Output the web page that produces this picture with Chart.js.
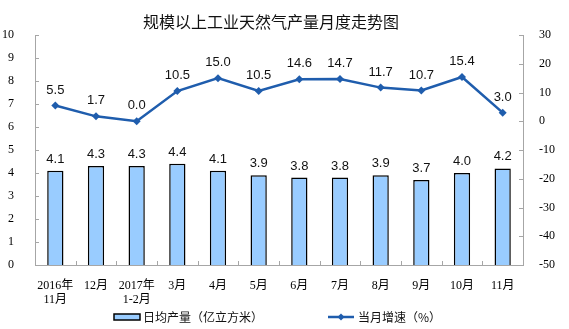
<!DOCTYPE html>
<html><head><meta charset="utf-8">
<script src="https://cdn.jsdelivr.net/npm/chart.js@4/dist/chart.umd.min.js"></script>
<style>
html,body{margin:0;padding:0;background:#fff;}
#wrap{position:relative;width:569px;height:329px;overflow:hidden;}
#title{position:absolute;left:143px;top:11px;font:16px "Noto Sans CJK SC",sans-serif;color:#111;white-space:nowrap;line-height:20px;}
canvas{position:absolute;left:0;top:0;}
</style></head>
<body><div id="wrap"><canvas id="c" width="569" height="329"></canvas><div id="title">规模以上工业天然气产量月度走势图</div></div>
<script>
const categories = [["2016年","11月"],["12月",""],["2017年","1-2月"],["3月",""],["4月",""],["5月",""],["6月",""],["7月",""],["8月",""],["9月",""],["10月",""],["11月",""]];
const dailyOutput = [4.1,4.3,4.3,4.4,4.1,3.9,3.8,3.8,3.9,3.7,4.0,4.2];
const monthlyGrowth = [5.5,1.7,0.0,10.5,15.0,10.5,14.6,14.7,11.7,10.7,15.4,3.0];
const leftAxis = {min:0, max:10, step:1};
const rightAxis = {min:-50, max:30, step:10};
const seriesNames = ["日均产量（亿立方米）","当月增速（%）"];

const BAR_FILL = '#99CCFF';
const LINE_COLOR = '#1F5DAD';
const AXIS_COLOR = '#A6A6A6';
const tickFont = {family:'"Liberation Serif","Noto Sans CJK SC",serif', size:12};
const xTickFont = {family:'"Liberation Serif","Noto Sans CJK SC",serif', size:12, lineHeight:'14px'};

const labelsPlugin = {
  id:'valueLabels',
  afterDatasetsDraw(chart){
    const ctx = chart.ctx;
    ctx.save();
    ctx.font = '13px "Liberation Sans", Arial, sans-serif';
    ctx.fillStyle = '#111';
    ctx.textAlign = 'center';
    ctx.textBaseline = 'bottom';
    chart.data.datasets.forEach((ds, di) => {
      const meta = chart.getDatasetMeta(di);
      meta.data.forEach((el, i) => {
        const off = ds.type === 'line' ? 9 : 5;
        ctx.fillText(ds.data[i].toFixed(1), el.x, el.y - off);
      });
    });
    ctx.restore();
  }
};

const ticksPlugin = {
  id:'innerTicks',
  afterDraw(chart){
    const ctx = chart.ctx, a = chart.chartArea;
    ctx.save();
    ctx.strokeStyle = AXIS_COLOR;
    ctx.lineWidth = 1;
    const ys = chart.scales.y, y1 = chart.scales.y1, xs = chart.scales.x;
    ys.ticks.forEach(t => {
      const y = Math.round(ys.getPixelForValue(t.value)) + 0.5;
      ctx.beginPath(); ctx.moveTo(a.left, y); ctx.lineTo(a.left + 4, y); ctx.stroke();
    });
    y1.ticks.forEach(t => {
      const y = Math.round(y1.getPixelForValue(t.value)) + 0.5;
      ctx.beginPath(); ctx.moveTo(a.right - 4, y); ctx.lineTo(a.right, y); ctx.stroke();
    });
    for (let i = 0; i <= categories.length; i++) {
      const x = Math.round(xs.getPixelForValue(i - 0.5)) + 0.5;
      ctx.beginPath(); ctx.moveTo(x, a.bottom); ctx.lineTo(x, a.bottom - 4); ctx.stroke();
    }
    // legend
    ctx.font = '12px "Noto Sans CJK SC", sans-serif';
    ctx.textBaseline = 'middle';
    ctx.textAlign = 'left';
    const ly = 317;
    ctx.fillStyle = BAR_FILL;
    ctx.fillRect(114, ly - 3, 26, 6);
    ctx.strokeStyle = '#000'; ctx.lineWidth = 1.5;
    ctx.strokeRect(114, ly - 3, 26, 6);
    ctx.fillStyle = '#111';
    ctx.fillText(seriesNames[0], 143, ly);
    ctx.strokeStyle = LINE_COLOR; ctx.lineWidth = 2.5;
    ctx.beginPath(); ctx.moveTo(328, ly); ctx.lineTo(354, ly); ctx.stroke();
    ctx.fillStyle = LINE_COLOR;
    ctx.beginPath(); ctx.moveTo(341, ly - 3.5); ctx.lineTo(344.5, ly); ctx.lineTo(341, ly + 3.5); ctx.lineTo(337.5, ly); ctx.closePath(); ctx.fill();
    ctx.fillStyle = '#111';
    ctx.fillText(seriesNames[1], 358, ly);
    ctx.restore();
  }
};

new Chart(document.getElementById('c'), {
  type:'bar',
  data:{
    labels: categories,
    datasets:[
      {type:'line', label:seriesNames[1], data:monthlyGrowth, yAxisID:'y1', order:0,
       borderColor:LINE_COLOR, backgroundColor:LINE_COLOR, borderWidth:2.5, tension:0,
       pointStyle:'rectRot', pointRadius:4, pointBorderWidth:0, pointBackgroundColor:LINE_COLOR},
      {type:'bar', label:seriesNames[0], data:dailyOutput, yAxisID:'y', order:1,
       backgroundColor:BAR_FILL, borderColor:'#000', borderWidth:1.5,
       barPercentage:0.4, categoryPercentage:1}
    ]
  },
  options:{
    responsive:false, animation:false, devicePixelRatio:1,
    layout:{padding:{top:35,left:0,right:0,bottom:0}},
    plugins:{legend:{display:false}, title:{display:false}, tooltip:{enabled:false}},
    scales:{
      x:{grid:{display:false}, border:{display:true,color:AXIS_COLOR,width:1},
         ticks:{font:xTickFont, color:'#000', padding:6, maxRotation:0, autoSkip:false, crossAlign:'near'},
         afterFit(s){ s.height = 64; }},
      y:{position:'left', min:leftAxis.min, max:leftAxis.max,
         grid:{display:false}, border:{display:true,color:AXIS_COLOR,width:1},
         ticks:{stepSize:leftAxis.step, font:tickFont, color:'#000', padding:13},
         afterFit(s){ s.width = 35; }},
      y1:{position:'right', min:rightAxis.min, max:rightAxis.max,
         grid:{display:false}, border:{display:true,color:AXIS_COLOR,width:1},
         ticks:{stepSize:rightAxis.step, font:tickFont, color:'#000', padding:8},
         afterFit(s){ s.width = 46; }}
    }
  },
  plugins:[labelsPlugin, ticksPlugin]
});
</script>
</body></html>
